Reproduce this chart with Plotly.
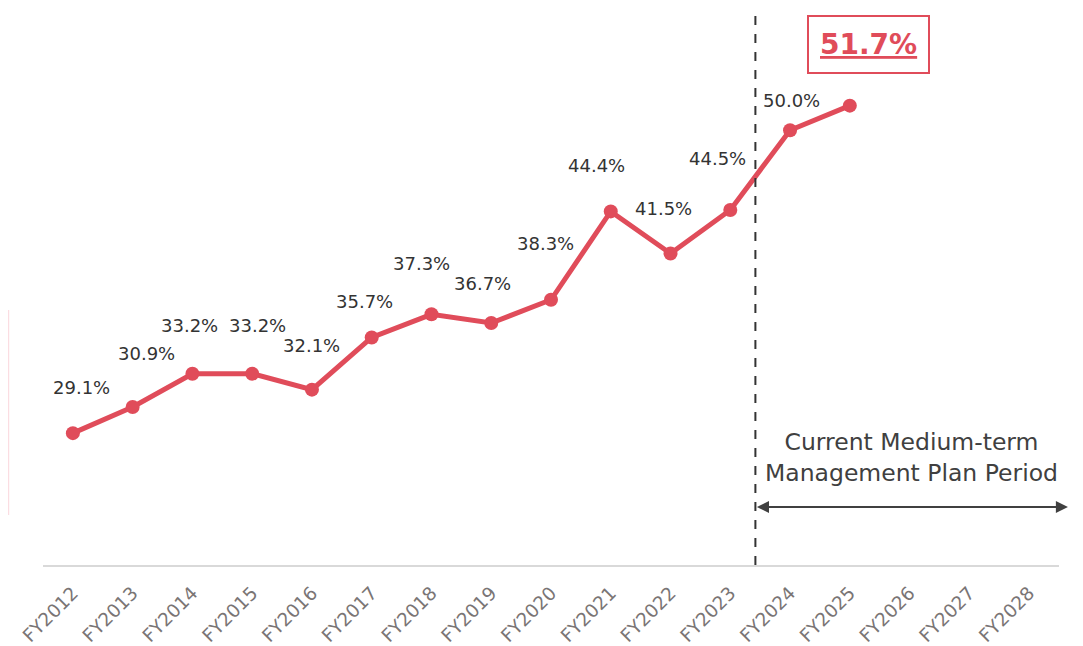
import plotly.graph_objects as go

categories = ["FY2012", "FY2013", "FY2014", "FY2015", "FY2016", "FY2017", "FY2018",
              "FY2019", "FY2020", "FY2021", "FY2022", "FY2023", "FY2024", "FY2025",
              "FY2026", "FY2027", "FY2028"]
ratio_values = [29.1, 30.9, 33.2, 33.2, 32.1, 35.7, 37.3, 36.7, 38.3, 44.4, 41.5, 44.5, 50.0, 51.7]
plan_text = "Current Medium-term<br>Management Plan Period"

# label offsets in pixels (style only)
label_dx = [9, 14, -3, 5, 0, -7, -10, -9, -6, -14, -7, -13, 1]
label_dy = [46, 54, 48, 48, 44, 36, 51, 40, 56, 46, 45, 51, 30]

RED = "#E04C5A"
DARK = "#404040"
FONT = "DejaVu Sans"

y_min, y_max = 20.0, 58.3
PLOT_H = 555


def ypix(v_from_top):
    # v_from_top: pixels from plot top
    return y_min + (PLOT_H - v_from_top) / PLOT_H * (y_max - y_min)


n_vals = len(ratio_values)
fig = go.Figure()
fig.add_trace(go.Scatter(
    x=categories[:n_vals], y=ratio_values, mode="lines+markers",
    line=dict(color=RED, width=5), marker=dict(color=RED, size=14),
    hoverinfo="skip", showlegend=False))

annotations = []
for i in range(n_vals - 1):
    annotations.append(dict(
        x=categories[i], y=ratio_values[i], xref="x", yref="y",
        text=f"{ratio_values[i]:.1f}%", showarrow=False,
        xshift=label_dx[i], yshift=label_dy[i],
        font=dict(family=FONT, size=18, color="#333333")))

# highlighted last value
annotations.append(dict(
    x=categories[n_vals - 1], y=ratio_values[-1], xref="x", yref="y",
    text=f"<b>{ratio_values[-1]:.1f}%</b>", showarrow=False,
    xshift=19, yshift=61,
    font=dict(family=FONT, size=28, color=RED, lineposition="under"),
    bordercolor=RED, borderwidth=2, borderpad=11, bgcolor="white"))

# plan period text (plot top is at screen y=10)
annotations.append(dict(
    x=(11.42 + 16.65) / 2, y=ypix(457 - 10), xref="x", yref="y",
    text=plan_text, showarrow=False,
    font=dict(family=FONT, size=23.5, color=DARK)))

# double arrow
annotations.append(dict(
    x=16.65, y=ypix(507 - 10), xref="x", yref="y",
    ax=11.42, ay=ypix(507 - 10), axref="x", ayref="y",
    text="", showarrow=True, arrowhead=2, arrowside="end+start",
    arrowsize=1.1, arrowwidth=2.2, arrowcolor=DARK))

fig.update_layout(annotations=annotations)

fig.add_shape(type="line", xref="x", yref="paper", x0=11.42, x1=11.42, y0=0, y1=1,
              line=dict(color="#333333", width=2, dash="dash"))
fig.add_shape(type="line", xref="paper", yref="paper", x0=-0.034, x1=-0.034,
              y0=(565 - 515) / PLOT_H, y1=(565 - 310) / PLOT_H,
              line=dict(color="#FBDDE2", width=1.5))

fig.update_xaxes(
    type="category", categoryorder="array", categoryarray=categories,
    range=[-0.5, 16.5], tickvals=categories, ticktext=categories,
    tickangle=-45, tickfont=dict(family=FONT, size=18.5, color="#7A7575"),
    ticklabelstandoff=8,
    showline=True, linecolor="#D9D9D9", linewidth=2, showgrid=False,
    zeroline=False, ticks="", automargin=False, fixedrange=True)
fig.update_yaxes(range=[y_min, y_max], visible=False, showgrid=False,
                 automargin=False, fixedrange=True)

# page body has an 8px default margin; compensate in figure size/margins
fig.update_layout(
    width=1075, height=638,
    margin=dict(l=35, r=24, t=2, b=81, autoexpand=False),
    paper_bgcolor="white", plot_bgcolor="white",
    font=dict(family=FONT),
    showlegend=False)

fig.write_html("out.html", config={"displayModeBar": False})
